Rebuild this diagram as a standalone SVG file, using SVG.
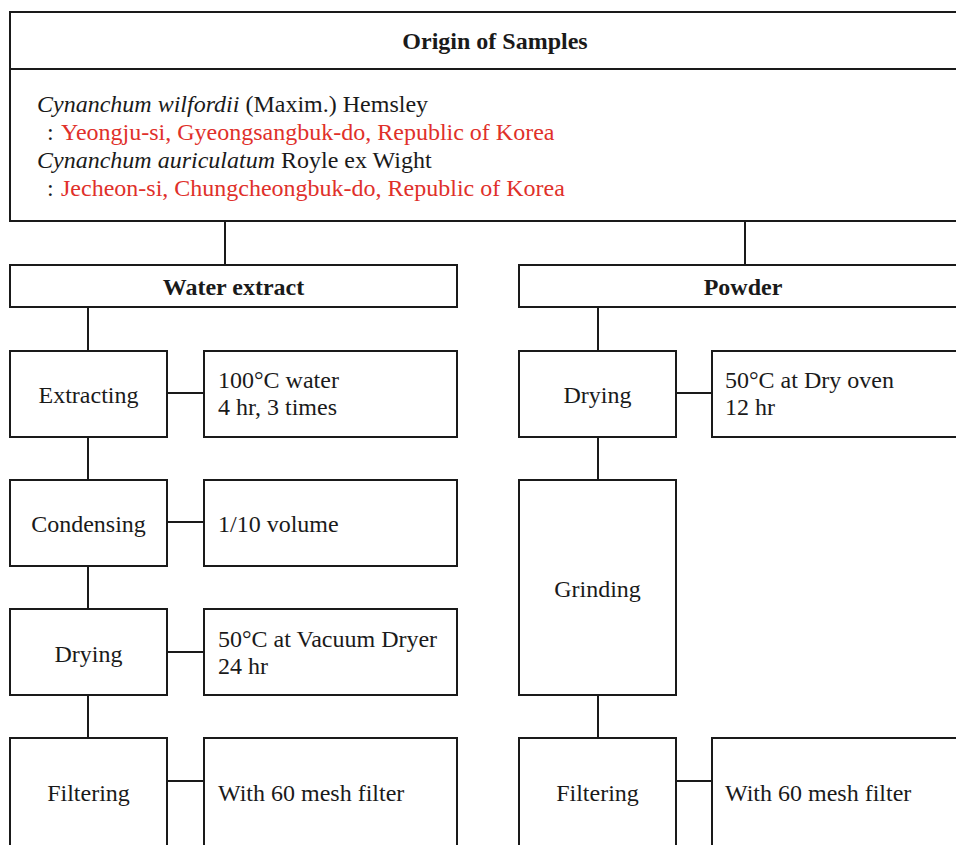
<svg xmlns="http://www.w3.org/2000/svg" width="956" height="845" viewBox="0 0 956 845">
<style>
  .box { fill: #ffffff; stroke: #1a1a1a; stroke-width: 2; }
  .conn line { stroke: #1a1a1a; stroke-width: 2; }
  text { font-family: "Liberation Serif", "Times New Roman", serif; font-size: 24px; fill: #1a1a1a; }
  .b { font-weight: bold; }
  .c { text-anchor: middle; }
  .i { font-style: italic; }
  .red { fill: #e0302a; }
</style>
<rect width="956" height="845" fill="#ffffff"/>
<g class="conn" id="connectors">
  <line x1="225" y1="221" x2="225" y2="265"/>
  <line x1="745" y1="221" x2="745" y2="265"/>
  <line x1="88" y1="307" x2="88" y2="351"/>
  <line x1="88" y1="437" x2="88" y2="480"/>
  <line x1="88" y1="566" x2="88" y2="609"/>
  <line x1="88" y1="695" x2="88" y2="738"/>
  <line x1="167" y1="393" x2="204" y2="393"/>
  <line x1="167" y1="522" x2="204" y2="522"/>
  <line x1="167" y1="652" x2="204" y2="652"/>
  <line x1="167" y1="781" x2="204" y2="781"/>
  <line x1="598" y1="307" x2="598" y2="351"/>
  <line x1="598" y1="437" x2="598" y2="480"/>
  <line x1="598" y1="695" x2="598" y2="738"/>
  <line x1="676" y1="393" x2="712" y2="393"/>
  <line x1="676" y1="781" x2="712" y2="781"/>
</g>
<g id="origin">
  <rect class="box" x="10" y="12" width="975" height="209"/>
  <line x1="10" y1="69" x2="985" y2="69" stroke="#1a1a1a" stroke-width="2"/>
  <text class="b c" x="495" y="49">Origin of Samples</text>
  <text x="37" y="112"><tspan class="i">Cynanchum wilfordii</tspan> (Maxim.) Hemsley</text>
  <text y="140"><tspan x="47">:</tspan><tspan x="61" class="red">Yeongju-si, Gyeongsangbuk-do, Republic of Korea</tspan></text>
  <text x="37" y="168"><tspan class="i">Cynanchum auriculatum</tspan> Royle ex Wight</text>
  <text y="196"><tspan x="47">:</tspan><tspan x="61" class="red">Jecheon-si, Chungcheongbuk-do, Republic of Korea</tspan></text>
</g>
<g id="water-extract">
  <rect class="box" x="10" y="265" width="447" height="42"/>
  <text class="b c" x="233.5" y="295">Water extract</text>
</g>
<g id="powder">
  <rect class="box" x="519" y="265" width="448" height="42"/>
  <text class="b c" x="743" y="295">Powder</text>
</g>
<g id="extracting">
  <rect class="box" x="10" y="351" width="157" height="86"/>
  <text class="c" x="88.5" y="403">Extracting</text>
</g>
<g id="extracting-detail">
  <rect class="box" x="204" y="351" width="253" height="86"/>
  <text x="218" y="388">100°C water</text>
  <text x="218" y="415">4 hr, 3 times</text>
</g>
<g id="condensing">
  <rect class="box" x="10" y="480" width="157" height="86"/>
  <text class="c" x="88.5" y="532">Condensing</text>
</g>
<g id="condensing-detail">
  <rect class="box" x="204" y="480" width="253" height="86"/>
  <text x="218" y="532">1/10 volume</text>
</g>
<g id="drying-left">
  <rect class="box" x="10" y="609" width="157" height="86"/>
  <text class="c" x="88.5" y="662">Drying</text>
</g>
<g id="drying-left-detail">
  <rect class="box" x="204" y="609" width="253" height="86"/>
  <text x="218" y="647">50°C at Vacuum Dryer</text>
  <text x="218" y="674">24 hr</text>
</g>
<g id="filtering-left">
  <rect class="box" x="10" y="738" width="157" height="130"/>
  <text class="c" x="88.5" y="801">Filtering</text>
</g>
<g id="filtering-left-detail">
  <rect class="box" x="204" y="738" width="253" height="130"/>
  <text x="218" y="801">With 60 mesh filter</text>
</g>
<g id="drying-right">
  <rect class="box" x="519" y="351" width="157" height="86"/>
  <text class="c" x="597.5" y="403">Drying</text>
</g>
<g id="drying-right-detail">
  <rect class="box" x="712" y="351" width="260" height="86"/>
  <text x="725" y="388">50°C at Dry oven</text>
  <text x="725" y="415">12 hr</text>
</g>
<g id="grinding">
  <rect class="box" x="519" y="480" width="157" height="215"/>
  <text class="c" x="597.5" y="597">Grinding</text>
</g>
<g id="filtering-right">
  <rect class="box" x="519" y="738" width="157" height="130"/>
  <text class="c" x="597.5" y="801">Filtering</text>
</g>
<g id="filtering-right-detail">
  <rect class="box" x="712" y="738" width="260" height="130"/>
  <text x="725" y="801">With 60 mesh filter</text>
</g>
</svg>
